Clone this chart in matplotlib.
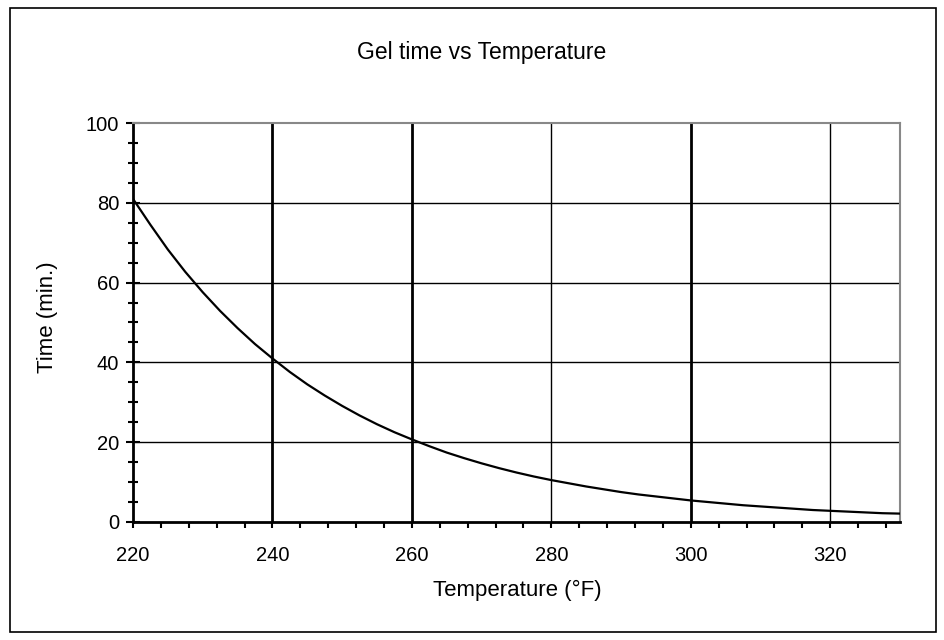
import matplotlib
matplotlib.use("Agg")
import matplotlib.pyplot as plt
from matplotlib.patches import Rectangle
from matplotlib.ticker import MultipleLocator

plt.rcParams['font.family'] = ['Liberation Sans', 'DejaVu Sans']

# values, every 2.5 deg F
temps = [220, 222.5, 225, 227.5, 230, 232.5, 235, 237.5, 240, 242.5, 245, 247.5,
         250, 252.5, 255, 257.5, 260, 262.5, 265, 267.5, 270, 272.5, 275, 277.5,
         280, 282.5, 285, 287.5, 290, 292.5, 295, 297.5, 300, 302.5, 305, 307.5,
         310, 312.5, 315, 317.5, 320, 322.5, 325, 327.5, 330]
gel_time = [81.0, 74.5, 68.3, 62.7, 57.6, 52.9, 48.6, 44.6, 41.0, 37.6, 34.5, 31.7,
            29.1, 26.7, 24.5, 22.5, 20.7, 19.0, 17.4, 16.0, 14.7, 13.5, 12.4, 11.4,
            10.5, 9.7, 8.9, 8.2, 7.5, 6.9, 6.4, 5.9, 5.4, 5.0, 4.6, 4.2,
            3.9, 3.6, 3.3, 3.0, 2.8, 2.6, 2.4, 2.2, 2.1]

xticks = [220, 240, 260, 280, 300, 320]
yticks = [0, 20, 40, 60, 80, 100]
thick_vlines = [240, 260, 300]
thin_vlines = [280, 320]

fig = plt.figure(figsize=(9.45, 6.4), dpi=100)
ax = fig.add_axes([0.1407, 0.1844, 0.8116, 0.6234])

# outer frame around the whole chart
fig.patches.append(Rectangle((10 / 945, 8 / 640), 926 / 945, 624 / 640,
                             transform=fig.transFigure, fill=False,
                             edgecolor='black', linewidth=1.2))

for y in yticks[1:-1]:
    ax.axhline(y, color='black', linewidth=1.0, zorder=1)
for x in thick_vlines:
    ax.axvline(x, color='black', linewidth=2.0, zorder=1)
for x in thin_vlines:
    ax.axvline(x, color='black', linewidth=1.0, zorder=1)

ax.plot(temps, gel_time, color='black', linewidth=1.6, zorder=3)

ax.set_xlim(220, 330)
ax.set_ylim(0, 100)
ax.set_xticks(xticks)
ax.set_yticks(yticks)
ax.xaxis.set_minor_locator(MultipleLocator(4))
ax.yaxis.set_minor_locator(MultipleLocator(5))

ax.tick_params(axis='x', which='both', direction='out', length=4.5, width=1.5,
               labelsize=14.5, pad=13)
ax.tick_params(axis='y', which='major', direction='inout', length=10, width=1.5,
               labelsize=14.5, pad=5)
ax.tick_params(axis='y', which='minor', direction='inout', length=7, width=1.5)

for side in ['left', 'bottom']:
    ax.spines[side].set_color('black')
    ax.spines[side].set_linewidth(2.0)
for side in ['top', 'right']:
    ax.spines[side].set_color('#888888')
    ax.spines[side].set_linewidth(1.5)

fig.text(517 / 945, 1 - 590 / 640, 'Temperature (°F)', ha='center', va='center',
         fontsize=16)
fig.text(48 / 945, 1 - 317 / 640, 'Time (min.)', ha='center', va='center',
         rotation=90, fontsize=16)
fig.text(482 / 945, 1 - 59 / 640, 'Gel time vs Temperature', ha='center',
         va='baseline', fontsize=16.5)

fig.savefig('out.png', dpi=100)
